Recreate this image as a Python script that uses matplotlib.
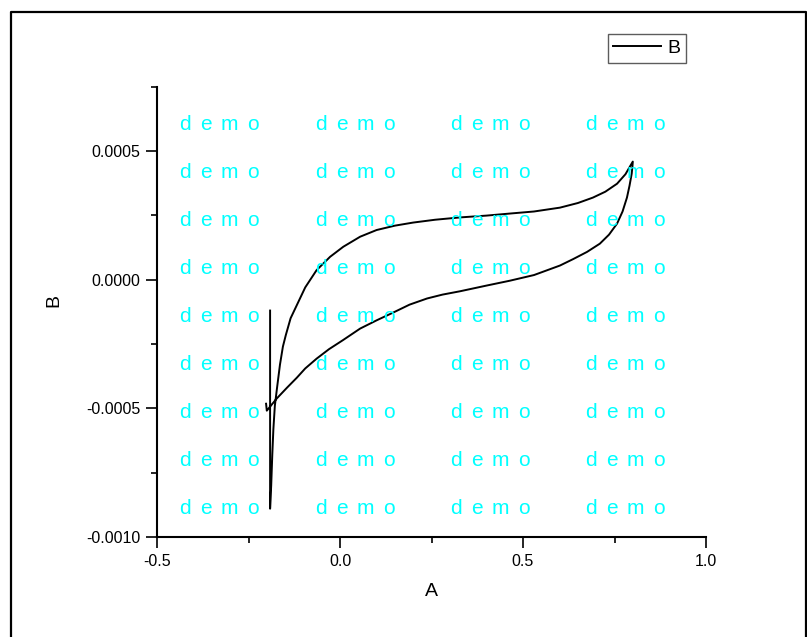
import numpy as np
import matplotlib
matplotlib.use("Agg")
import matplotlib.pyplot as plt
from matplotlib.ticker import MultipleLocator, FuncFormatter
from matplotlib.lines import Line2D

plt.rcParams['font.family'] = ['Liberation Sans', 'DejaVu Sans']
plt.rcParams['axes.unicode_minus'] = False

# series B (scan out along the top branch, back along the bottom one)
a_vals = [-0.191, -0.191, -0.188, -0.185, -0.182, -0.178, -0.172, -0.164, -0.156, -0.148,
          -0.135, -0.115, -0.095, -0.064, -0.027, 0.009, 0.055, 0.100, 0.150, 0.200,
          0.260, 0.328, 0.400, 0.464, 0.530, 0.601, 0.650, 0.691, 0.725, 0.757,
          0.780, 0.800,
          0.799, 0.797, 0.791, 0.784, 0.772, 0.757, 0.735, 0.710, 0.675, 0.637,
          0.601, 0.530, 0.464, 0.400, 0.328, 0.280, 0.238, 0.190, 0.145, 0.100,
          0.055, 0.008, -0.030, -0.064, -0.095, -0.118, -0.145, -0.173, -0.200, -0.202]
b_vals = [-0.00012, -0.00089, -0.00080, -0.00068, -0.00058, -0.00049, -0.00042, -0.00033, -0.00026, -0.000215,
          -0.00015, -0.00009, -0.00003, 0.000037, 0.000089, 0.000128, 0.000167, 0.000193, 0.000210, 0.000222,
          0.000233, 0.000242, 0.000249, 0.000257, 0.000265, 0.000280, 0.000298, 0.000319, 0.000342, 0.000373,
          0.000410, 0.000459,
          0.000440, 0.000412, 0.000365, 0.000319, 0.000265, 0.000218, 0.000175, 0.000140, 0.000108, 0.000080,
          0.000055, 0.000018, -0.000004, -0.000023, -0.000045, -0.000058, -0.000073, -0.000097, -0.000128, -0.000158,
          -0.000190, -0.000235, -0.000270, -0.000307, -0.000345, -0.000381, -0.000420, -0.000462, -0.000509, -0.000482]

x_range = (-0.5, 1.0)
y_range = (-0.001, 0.00075)

W, H = 807, 637
fig = plt.figure(figsize=(W / 100, H / 100), dpi=100)
ax = fig.add_axes([157 / W, 1 - 537 / H, 549 / W, 450.3 / H])

ax.plot(a_vals, b_vals, color='black', lw=1.4, label='B')

ax.set_xlim(*x_range)
ax.set_ylim(*y_range)
for side in ('top', 'right'):
    ax.spines[side].set_visible(False)
for side in ('left', 'bottom'):
    ax.spines[side].set_linewidth(1.5)

ax.xaxis.set_major_locator(MultipleLocator(0.5))
ax.xaxis.set_minor_locator(MultipleLocator(0.25))
ax.yaxis.set_major_locator(MultipleLocator(0.0005))
ax.yaxis.set_minor_locator(MultipleLocator(0.00025))
ax.xaxis.set_major_formatter(FuncFormatter(lambda v, p: '%.1f' % (round(v, 6) + 0.0)))
ax.yaxis.set_major_formatter(FuncFormatter(lambda v, p: '%.4f' % (round(v, 8) + 0.0)))
ax.tick_params(which='major', direction='out', length=8, width=1.2, labelsize=11.5, pad=4)
ax.tick_params(which='minor', direction='out', length=4.5, width=1.2)

ax.set_xlabel('A', fontsize=14, labelpad=10)
ax.set_ylabel('B', fontsize=14)
ax.yaxis.set_label_coords(-0.172, 0.526)

leg = ax.legend(loc='upper right', bbox_to_anchor=(686 / W, 1 - 34 / H),
                bbox_transform=fig.transFigure, fontsize=14, frameon=True,
                fancybox=False, borderaxespad=0, borderpad=0.28,
                handlelength=2.45, handletextpad=0.35)
leg.get_frame().set_edgecolor('#333333')
leg.get_frame().set_linewidth(1.0)

# "demo" watermark grid, letters placed one by one
wm_cols = [179, 315, 450, 585]
wm_rows = [130 + 48 * k for k in range(9)]
wm_letters = ['d', 'e', 'm', 'o']
wm_offsets = [0, 21, 41.5, 68]
for cx in wm_cols:
    for ry in wm_rows:
        for ch, dx in zip(wm_letters, wm_offsets):
            fig.text((cx + dx) / W, 1 - ry / H, ch, color='#00ffff', fontsize=15,
                     ha='left', va='baseline')

# outer frame (partly off the canvas on the right and bottom)
frame_x = [11 / W, 11 / W, 805.5 / W, 805.5 / W]
frame_y = [0, 1 - 12 / H, 1 - 12 / H, 0]
fig.add_artist(Line2D(frame_x, frame_y, color='black', lw=1.6, transform=fig.transFigure))

fig.savefig('out.png', dpi=100)
